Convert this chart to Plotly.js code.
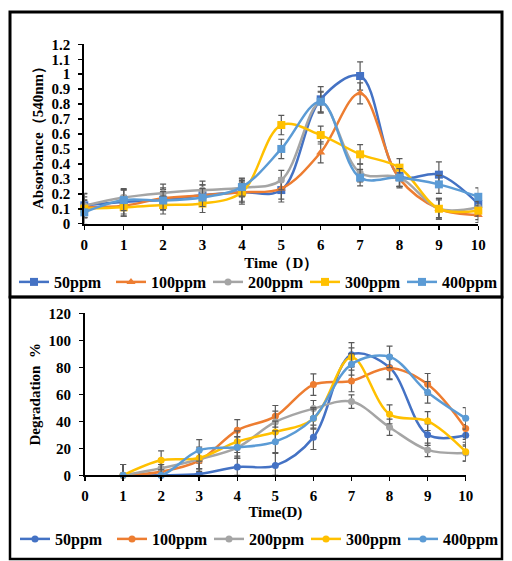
<!DOCTYPE html>
<html>
<head>
<meta charset="utf-8">
<script src="https://cdn.plot.ly/plotly-3.0.1.min.js"></script>
<style>html,body{margin:0;padding:0;background:#fff;}#chart{width:512px;height:561px;}</style>
</head>
<body>
<div id="chart"></div>
<script>
// ---------- Data ----------
const seriesNames = ['50ppm', '100ppm', '200ppm', '300ppm', '400ppm'];
const colors = ['#4472C4', '#ED7D31', '#A5A5A5', '#FFC000', '#5B9BD5'];
const absSymbols = ['square', 'triangle-up', 'circle', 'square', 'square'];

// Top panel: Absorbance (540nm)
const absDays = [0, 1, 2, 3, 4, 5, 6, 7, 8, 9, 10];
const abs50  = [0.123, 0.145, 0.16, 0.19, 0.21, 0.225, 0.832, 0.988, 0.32, 0.328, 0.132];
const abs100 = [0.11, 0.12, 0.17, 0.19, 0.21, 0.235, 0.477, 0.872, 0.30, 0.10, 0.058];
const abs200 = [0.12, 0.175, 0.205, 0.225, 0.24, 0.292, 0.81, 0.34, 0.31, 0.10, 0.11];
const abs300 = [0.10, 0.11, 0.125, 0.135, 0.21, 0.66, 0.593, 0.464, 0.375, 0.10, 0.087];
const abs400 = [0.076, 0.158, 0.155, 0.175, 0.245, 0.50, 0.816, 0.308, 0.308, 0.263, 0.18];
const absErr50  = [0.08, 0.08, 0.07, 0.07, 0.08, 0.08, 0.085, 0.095, 0.07, 0.085, 0.06];
const absErr100 = [0.07, 0.07, 0.07, 0.07, 0.07, 0.07, 0.07, 0.07, 0.06, 0.07, 0.05];
const absErr200 = [0.08, 0.06, 0.06, 0.06, 0.06, 0.065, 0.07, 0.06, 0.06, 0.07, 0.06];
const absErr300 = [0.06, 0.06, 0.06, 0.06, 0.06, 0.065, 0.06, 0.065, 0.06, 0.06, 0.06];
const absErr400 = [0.08, 0.07, 0.06, 0.06, 0.06, 0.065, 0.07, 0.055, 0.06, 0.06, 0.06];

// Bottom panel: Degradation %
const degDays = [1, 2, 3, 4, 5, 6, 7, 8, 9, 10];
const deg50  = [0, 0, 1, 6.2, 7.2, 28.1, 89.3, 79.8, 30.1, 29.6];
const deg100 = [0, 2.7, 10.9, 33.3, 43.7, 67.2, 69.9, 79.5, 67.4, 34.6];
const deg200 = [0, 5.2, 11.9, 20.5, 39.5, 49.4, 54.6, 35.6, 18.8, 16.5];
const deg300 = [0, 11.1, 12.8, 24.9, 32.1, 42, 87.4, 45.2, 40.2, 17.5];
const deg400 = [0, 0, 18.5, 20.7, 24.9, 42.2, 82.2, 87.7, 61.5, 42.2];
const degErr50  = [8, 8, 8, 8, 9, 9, 9, 9, 8, 8];
const degErr100 = [8, 8, 8, 8, 8, 8, 8, 8, 8, 8];
const degErr200 = [8, 7, 7, 8, 8, 6, 5, 6, 5, 6];
const degErr300 = [8, 7, 8, 8, 8, 7, 7, 7, 7, 7];
const degErr400 = [8, 8, 8, 8, 8, 8, 8, 8, 8, 8];

// Tick labels
const xTickVals = [0, 1, 2, 3, 4, 5, 6, 7, 8, 9, 10];
const xTickText = ['0', '1', '2', '3', '4', '5', '6', '7', '8', '9', '10'];
const absTickVals = [0, 0.1, 0.2, 0.3, 0.4, 0.5, 0.6, 0.7, 0.8, 0.9, 1.0, 1.1, 1.2];
const absTickText = ['0', '0.1', '0.2', '0.3', '0.4', '0.5', '0.6', '0.7', '0.8', '0.9', '1', '1.1', '1.2'];
const degTickVals = [0, 20, 40, 60, 80, 100, 120];
const degTickText = ['0', '20', '40', '60', '80', '100', '120'];

// ---------- Layout helpers ----------
const W = 512, H = 561;
const px = v => v / W;
const py = v => 1 - v / H;
const FONT = 'Liberation Serif, Times New Roman, serif';
const errColor = '#595959';

const absSeries = [abs50, abs100, abs200, abs300, abs400];
const absErrs = [absErr50, absErr100, absErr200, absErr300, absErr400];
const degSeries = [deg50, deg100, deg200, deg300, deg400];
const degErrs = [degErr50, degErr100, degErr200, degErr300, degErr400];

const traces = [];
absSeries.forEach((ys, i) => {
  traces.push({
    type: 'scatter', mode: 'lines+markers', name: seriesNames[i],
    x: absDays, y: ys, xaxis: 'x', yaxis: 'y', legend: 'legend',
    line: {color: colors[i], width: 2.5, shape: 'spline', smoothing: 1},
    marker: {symbol: absSymbols[i], size: absSymbols[i] === 'circle' ? 7 : 8, color: colors[i]},
    error_y: {type: 'data', array: absErrs[i], visible: true, color: errColor, thickness: 1.2, width: 3},
    cliponaxis: false
  });
});
degSeries.forEach((ys, i) => {
  traces.push({
    type: 'scatter', mode: 'lines+markers', name: seriesNames[i],
    x: degDays, y: ys, xaxis: 'x2', yaxis: 'y2', legend: 'legend2',
    line: {color: colors[i], width: 2.5, shape: 'spline', smoothing: 1},
    marker: {symbol: 'circle', size: 7, color: colors[i]},
    error_y: {type: 'data', array: degErrs[i], arrayminus: ys.map((v, k) => Math.min(v, degErrs[i][k])),
              symmetric: false, visible: true, color: errColor, thickness: 1.2, width: 3},
    cliponaxis: false
  });
});

const tickFont = {family: FONT, size: 15, color: '#000', weight: 'bold'};
const titleFont = {family: FONT, size: 15, color: '#000', weight: 'bold'};
const axisBase = {
  showgrid: false, zeroline: false, showline: true, linecolor: '#000', linewidth: 2,
  ticks: 'outside', ticklen: 4, tickwidth: 1.5, tickcolor: '#000', tickfont: tickFont,
  fixedrange: true
};

const layout = {
  width: W, height: H,
  margin: {l: 0, r: 0, t: 0, b: 0},
  paper_bgcolor: '#fff', plot_bgcolor: '#fff',
  showlegend: true,
  xaxis: Object.assign({}, axisBase, {
    domain: [px(84.3), px(478.3)], range: [0, 10], anchor: 'y',
    tickvals: xTickVals, ticktext: xTickText, ticklabelstandoff: 2,
    title: {text: 'Time（D）', font: titleFont, standoff: 6}
  }),
  yaxis: Object.assign({}, axisBase, {
    domain: [py(223.7), py(44.3)], range: [0, 1.2], anchor: 'x',
    tickvals: absTickVals, ticktext: absTickText, ticklabelstandoff: 5,
    title: {text: 'Absorbance（540nm）', font: titleFont, standoff: 4}
  }),
  xaxis2: Object.assign({}, axisBase, {
    domain: [px(85), px(465.7)], range: [0, 10], anchor: 'y2',
    tickvals: xTickVals, ticktext: xTickText, ticklabelstandoff: 2,
    title: {text: 'Time(D)', font: titleFont, standoff: 1}
  }),
  yaxis2: Object.assign({}, axisBase, {
    domain: [py(475.3), py(313.3)], range: [0, 120], anchor: 'x2',
    tickvals: degTickVals, ticktext: degTickText, ticklabelstandoff: 5,
    title: {text: 'Degradation\u00a0\u00a0%', font: titleFont, standoff: 4}
  }),
  legend: {
    orientation: 'h', x: px(14), xanchor: 'left', y: py(282), yanchor: 'middle',
    font: {family: FONT, size: 16, color: '#000', weight: 'bold'},
    entrywidth: 52, entrywidthmode: 'pixels', itemwidth: 30, bgcolor: 'rgba(0,0,0,0)'
  },
  legend2: {
    orientation: 'h', x: px(15), xanchor: 'left', y: py(539), yanchor: 'middle',
    font: {family: FONT, size: 16, color: '#000', weight: 'bold'},
    entrywidth: 52, entrywidthmode: 'pixels', itemwidth: 30, bgcolor: 'rgba(0,0,0,0)'
  },
  shapes: [
    {type: 'rect', xref: 'paper', yref: 'paper', x0: px(10), x1: px(502), y0: py(297), y1: py(12),
     line: {color: '#000', width: 3}, layer: 'above'},
    {type: 'rect', xref: 'paper', yref: 'paper', x0: px(10), x1: px(502), y0: py(559), y1: py(297),
     line: {color: '#000', width: 2.5}, layer: 'above'}
  ]
};

Plotly.newPlot('chart', traces, layout, {displayModeBar: false, staticPlot: true});
</script>
</body>
</html>
